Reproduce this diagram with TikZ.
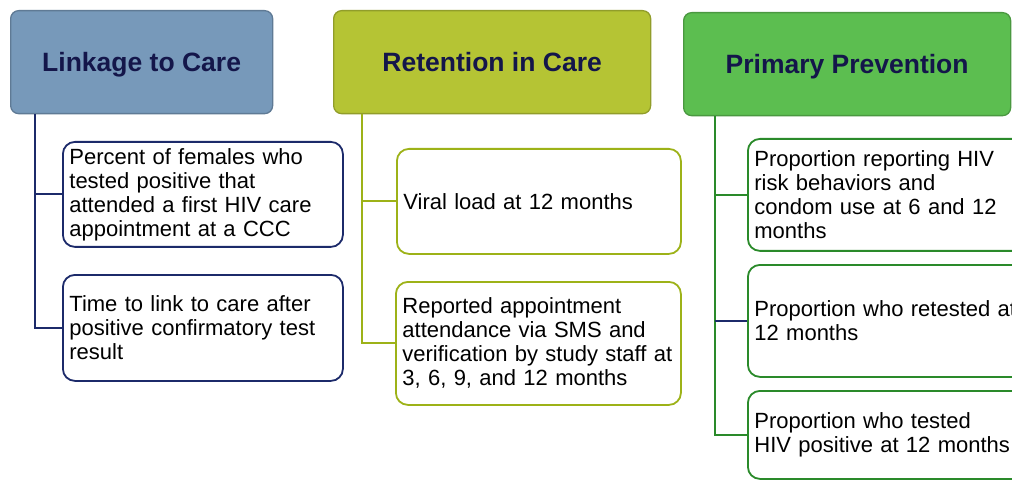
\documentclass[tikz,border=0pt]{standalone}
\usepackage{fontspec}
\setmainfont{Liberation Sans}
\begin{document}
\begin{tikzpicture}[x=1pt,y=-1pt,
  header/.style={draw=#1!80!black, line width=1.3pt, rounded corners=8pt,
    anchor=north west, inner sep=0pt, align=center, text=navytext,
    text height=19pt, text depth=0pt,
    font=\fontsize{26.5}{30}\selectfont\bfseries},
  item/.style={draw=#1, line width=1.8pt, rounded corners=12pt, fill=white,
    anchor=north west, inner xsep=6.5pt, inner ysep=0pt, align=left,
    text=black, font=\fontsize{22}{24}\selectfont},
  link/.style={draw=#1, line width=1.9pt}]
\definecolor{navytext}{HTML}{14164A}
\definecolor{linkblue}{HTML}{7799BA}
\definecolor{retyellow}{HTML}{B5C434}
\definecolor{prevgreen}{HTML}{5CBE50}
\definecolor{navyline}{HTML}{1C2A6A}
\definecolor{oliveline}{HTML}{9DB218}
\definecolor{greenline}{HTML}{2A8A2A}

\useasboundingbox (0,0) rectangle (1012,481);
\clip (0,0) rectangle (1012,481);
\fill[white] (0,0) rectangle (1012,481);

% column headers
\node[header=linkblue, fill=linkblue, minimum width=262pt, minimum height=103pt]
  (h1) at (10,10) {Linkage to Care};
\node[header=retyellow, fill=retyellow, minimum width=317pt, minimum height=103pt]
  (h2) at (333,10) {Retention in Care};
\node[header=prevgreen, fill=prevgreen, minimum width=327pt, minimum height=103pt]
  (h3) at (683,12) {Primary Prevention};

% linkage to care
\node[item=navyline, text width=267pt, minimum height=105pt] (b1a) at (62,141)
  {Percent of females who\\tested positive that\\attended a first HIV care\\appointment at a CCC};
\node[item=navyline, text width=267pt, minimum height=106pt] (b1b) at (62,274)
  {Time to link to care after\\positive confirmatory test\\result};

% retention in care
\node[item=oliveline, text width=271pt, minimum height=105pt] (b2a) at (396,148)
  {Viral load at 12 months};
\node[item=oliveline, text width=272pt, minimum height=123pt] (b2b) at (395,281)
  {Reported appointment\\attendance via SMS and\\verification by study staff at\\3, 6, 9, and 12 months};

% primary prevention
\node[item=greenline, text width=290pt, minimum height=112pt] (b3a) at (747,138)
  {Proportion reporting HIV\\risk behaviors and\\condom use at 6 and 12\\months};
\node[item=greenline, text width=290pt, minimum height=112pt] (b3b) at (747,264)
  {Proportion who retested at\\12 months};
\node[item=greenline, text width=290pt, minimum height=88pt] (b3c) at (747,390)
  {Proportion who tested\\HIV positive at 12 months};

% connectors from each header to its items
\draw[link=navyline] ([xshift=25pt]h1.south west) |- (b1a.west);
\draw[link=navyline] ([xshift=25pt]h1.south west) |- (b1b.west);
\draw[link=oliveline] ([xshift=29pt]h2.south west) |- (b2a.west);
\draw[link=oliveline] ([xshift=29pt]h2.south west) |- (b2b.west);
\draw[link=greenline] ([xshift=32pt]h3.south west) |- (b3a.west);
\draw[link=greenline] ([xshift=32pt]h3.south west) |- (b3c.west);
\draw[link=navyline, line width=1.2pt] ([xshift=32pt]h3.south west |- b3b.west) -- (b3b.west);
\end{tikzpicture}
\end{document}
